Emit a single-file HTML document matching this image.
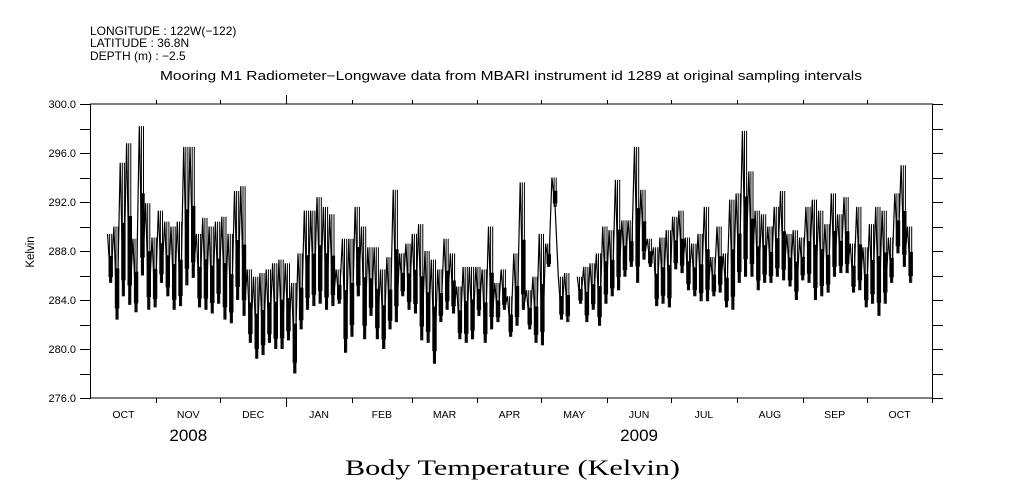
<!DOCTYPE html>
<html><head><meta charset="utf-8">
<style>
body{margin:0;background:#fff;}
svg{display:block;font-family:"Liberation Sans",sans-serif;}
</style></head>
<body>
<svg id="chart" width="1009" height="504" viewBox="0 0 1009 504" xmlns="http://www.w3.org/2000/svg">
<rect width="1009" height="504" fill="#fff"/>
<g font-size="12" fill="#000">
<text x="90" y="35">LONGITUDE : 122W(−122)</text>
<text x="90" y="47">LATITUDE : 36.8N</text>
<text x="90" y="60">DEPTH (m) : −2.5</text>
</g>
<text x="160" y="80" textLength="702" lengthAdjust="spacingAndGlyphs" font-size="12.5">Mooring M1 Radiometer−Longwave data from MBARI instrument id 1289 at original sampling intervals</text>
<text transform="translate(34,252) rotate(-90)" text-anchor="middle" font-size="11.5">Kelvin</text>
<text x="345" y="475" textLength="335" lengthAdjust="spacingAndGlyphs" font-family="'Liberation Serif',serif" font-size="22">Body Temperature (Kelvin)</text>
<g id="axes"></g>
<g id="series"></g>
</svg>
<script>
const months = ["OCT","NOV","DEC","JAN","FEB","MAR","APR","MAY","JUN","JUL","AUG","SEP","OCT"];
const monthDays = [31,30,31,31,28,31,30,31,30,31,31,30,31];
const years = ["2008","2009"];
const yearMonthIndex = [1,8];
const yTicks = [276,278,280,282,284,286,288,290,292,294,296,298,300];
const yLabels = [276.0,280.0,284.0,288.0,292.0,296.0,300.0];
const firstDay = 8;
const dayStep = 2.986;
const hiVals = [289.4,290.0,295.2,296.8,289.0,298.2,291.9,289.1,291.3,290.4,290.0,290.4,296.5,296.5,289.4,290.7,290.0,290.4,290.8,289.4,
292.9,293.3,286.5,285.9,286.2,286.5,287.0,287.3,287.0,285.4,287.8,291.3,291.3,292.4,291.6,291.0,286.5,289.0,289.0,291.6,
290.0,288.3,288.3,286.5,287.5,293.0,287.8,288.6,289.4,290.2,288.0,287.3,286.5,289.0,287.8,285.1,286.7,286.7,286.7,286.5,
290.0,285.4,286.5,284.3,287.8,293.6,284.8,285.9,289.4,288.6,294.0,285.9,286.2,null,285.9,286.7,287.0,287.8,290.0,289.7,
293.8,290.5,290.5,296.5,293.0,289.0,288.3,289.1,289.7,290.8,291.3,289.1,288.6,289.4,291.6,287.5,290.0,287.8,292.2,292.7,
297.8,294.5,291.3,291.0,290.0,291.6,292.9,289.4,289.7,289.1,291.6,292.2,291.3,290.2,292.7,291.0,292.4,288.6,291.6,288.3,
290.2,291.6,291.3,289.1,292.7,295.0,290.0];
const loVals = [285.4,282.4,284.3,283.6,283.0,286.0,283.2,283.4,285.4,284.3,283.2,283.5,285.2,285.8,283.4,283.2,282.9,283.7,282.4,282.1,
284.0,282.7,280.5,279.2,279.5,280.5,280.0,280.0,280.7,278.0,281.6,283.2,283.5,283.7,283.2,283.5,283.7,279.7,281.0,284.3,
280.8,282.7,280.8,280.0,281.6,282.2,284.3,283.2,282.9,280.7,280.5,278.8,282.2,283.2,282.9,280.8,280.5,280.8,282.7,280.5,
281.6,282.2,283.2,281.0,281.9,283.2,281.6,280.5,280.3,286.7,291.6,282.4,282.2,null,283.7,282.2,283.2,281.9,283.7,284.3,
284.8,285.9,286.7,285.4,287.3,286.7,283.5,283.7,283.4,286.5,286.2,284.8,284.3,283.9,283.9,284.3,284.6,283.4,283.2,285.4,
285.9,285.9,284.8,285.4,285.4,285.9,285.6,285.1,284.0,285.6,285.4,284.0,284.3,284.6,285.9,286.2,286.2,284.6,284.8,283.4,
283.7,282.7,283.7,285.4,287.8,286.7,285.4];

const NS="http://www.w3.org/2000/svg";
const L=90.5, R=932.5, T=104, B=398;
const totalDays = monthDays.reduce((a,b)=>a+b,0);
const xScale = d => L + d*(R-L)/totalDays;
const yScale = v => B - (v-276)*(B-T)/24;
const axes=document.getElementById('axes');
const series=document.getElementById('series');
function mk(tag,attrs,parent){const e=document.createElementNS(NS,tag);for(const k in attrs)e.setAttribute(k,attrs[k]);parent.appendChild(e);return e;}

let fr=mk('rect',{x:L,y:T,width:R-L,height:B-T,fill:'none',stroke:'#000','stroke-width':1},axes);



yTicks.forEach(v=>{
  const y=Math.round(yScale(v))+0.5;
  let t=mk('line',{x1:80,x2:L,y1:y,y2:y,stroke:'#000'},axes);
  
  
  let t2=mk('line',{x1:R,x2:943,y1:y,y2:y,stroke:'#000'},axes);
  
  
});
yLabels.forEach(v=>{
  const tx=mk('text',{x:76,y:yScale(v)+4,'text-anchor':'end','font-size':11},axes);
  tx.textContent=v.toFixed(1);
  
  
});
let cum=0;
months.forEach((m,i)=>{
  const x0=xScale(cum), x1=xScale(cum+monthDays[i]);
  const xr=Math.round(x1)+0.5;
  const tall = (i===2);
  if(i<months.length-1){
    let tb=mk('line',{x1:xr,x2:xr,y1:B,y2:tall?407:403,stroke:'#000'},axes);
    
    
    let tt=mk('line',{x1:xr,x2:xr,y1:T,y2:tall?95:100,stroke:'#000'},axes);
    
    
  }
  const lb=mk('text',{x:(x0+x1)/2,y:418,'text-anchor':'middle','font-size':10.5},axes);
  lb.textContent=m;
  
  
  cum+=monthDays[i];
});
let endTick=mk('line',{x1:R,x2:R,y1:B,y2:403,stroke:'#000'},axes);


years.forEach((yv,j)=>{
  let c=0;for(let k=0;k<yearMonthIndex[j];k++)c+=monthDays[k];
  const xm=xScale(c+monthDays[yearMonthIndex[j]]/2);
  const t=mk('text',{x:xm,y:441,'text-anchor':'middle','font-size':17},axes);
  t.textContent=yv;
  
  
});

let d='', sticks='', core='', pen=false;
const binW=(R-L)/totalDays*dayStep;
hiVals.forEach((h,i)=>{
  const lo=loVals[i];
  if(h===null||lo===null){pen=false;return;}
  const x=xScale(firstDay+dayStep*i);
  const yh=yScale(h), yl=yScale(lo);
  d+=(pen?'L':'M')+x.toFixed(1)+','+yh.toFixed(1)+'L'+(x+binW/2).toFixed(1)+','+yl.toFixed(1);
  for(let k=1;k<3;k++){
    const xs=(x+k*binW/3).toFixed(1);
    sticks+='M'+xs+','+yh.toFixed(1)+'V'+yl.toFixed(1);
  }
  const r=yl-yh;
  core+='M'+(x+binW*0.15).toFixed(1)+','+(yl-0.55*r).toFixed(1)+'H'+(x+binW*0.85).toFixed(1)+'V'+(yl-0.12*r).toFixed(1)+'H'+(x+binW*0.15).toFixed(1)+'Z';
  pen=true;
});
const c=mk('path',{d:core,fill:'#000',stroke:'none'},series);


const s=mk('path',{d:sticks,fill:'none',stroke:'#000','stroke-width':1},series);


const p=mk('path',{d:d,fill:'none',stroke:'#000','stroke-width':1.2},series);


</script>
</body></html>
